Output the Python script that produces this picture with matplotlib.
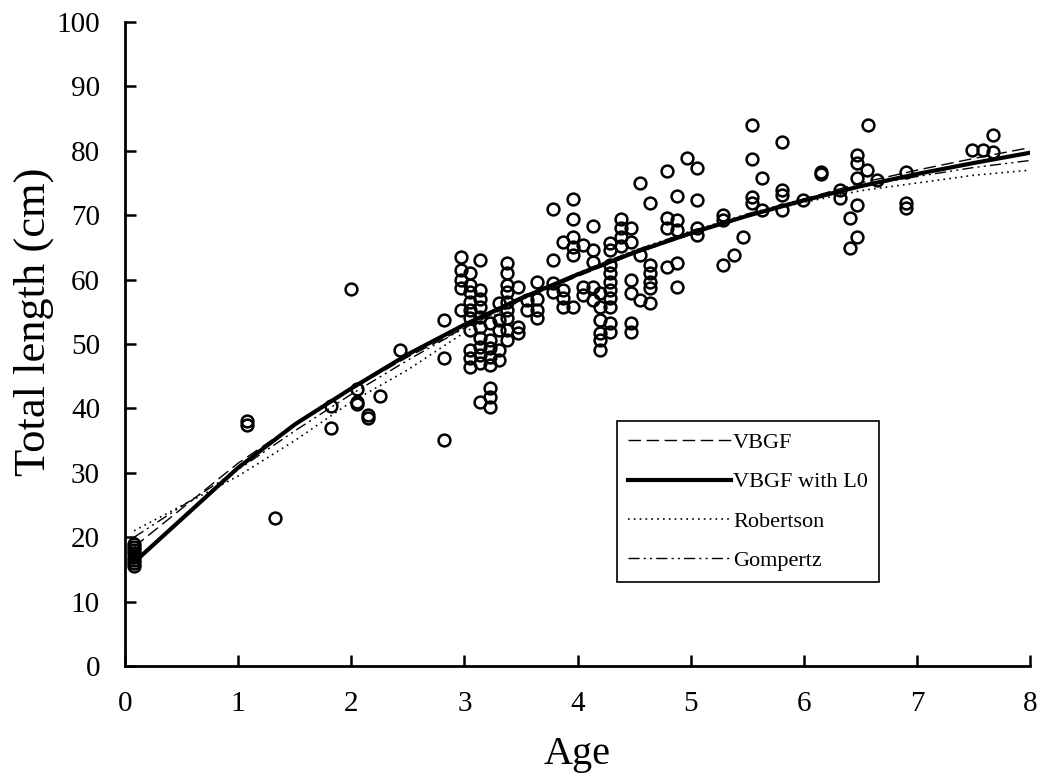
import matplotlib.pyplot as plt
import numpy as np
from matplotlib.lines import Line2D

plt.rcParams['font.family'] = ['Liberation Serif', 'DejaVu Serif']

col_age = [0.08, 1.08, 1.33, 1.82, 2.00, 2.05, 2.15, 2.25, 2.43, 2.82,
           2.97, 3.05, 3.14, 3.23, 3.31, 3.38, 3.47, 3.55, 3.64, 3.78,
           3.87, 3.96, 4.05, 4.14, 4.20, 4.29, 4.38, 4.47, 4.55, 4.64,
           4.79, 4.88, 4.97, 5.06, 5.29, 5.38, 5.46, 5.54, 5.63, 5.81,
           5.99, 6.15, 6.32, 6.41, 6.47, 6.56, 6.57, 6.65, 6.90, 7.49,
           7.58, 7.67]
col_len = [
    [15.5, 16, 16.5, 17, 17.5, 18, 18.5, 19],
    [37.5, 38],
    [23],
    [40.3, 37],
    [58.5],
    [43, 41, 40.7],
    [39, 38.5],
    [42],
    [49],
    [53.7, 47.8, 35.1],
    [63.5, 61.5, 60, 58.7, 55.3],
    [61, 59.2, 58, 56.5, 55.3, 54, 52.2, 49, 47.8, 46.4],
    [63, 58.4, 57, 55.7, 54.2, 52.6, 51, 49.5, 48.3, 47, 41],
    [43.2, 41.8, 40.2, 53.3, 50.6, 49.4, 48, 46.7],
    [56.4, 53.7, 52.2, 49, 47.5],
    [62.6, 61, 59.2, 58, 56.5, 55.3, 54, 52.2, 50.6],
    [58.8, 52.6, 51.7],
    [56.8, 55.3],
    [59.6, 57, 55.3, 54],
    [71, 63, 59.5, 58],
    [65.8, 58.4, 57.1, 55.7],
    [72.5, 69.4, 66.6, 65, 63.8, 55.7],
    [65.4, 58.8, 57.6],
    [68.3, 64.6, 62.7, 58.8, 56.8],
    [57.9, 55.7, 53.7, 51.7, 50.6, 49],
    [65.7, 64.6, 62.3, 61, 59.6, 58.4, 57.1, 55.7, 53.3, 51.9],
    [69.4, 68, 66.6, 65.2],
    [68, 65.8, 60, 57.9, 53.3, 51.9],
    [75, 63.8, 56.8],
    [71.9, 62.3, 61, 59.6, 58.7, 56.4],
    [76.9, 69.6, 68, 62],
    [73, 69.3, 67.7, 62.6, 58.9],
    [78.9],
    [77.3, 72.4, 68, 66.9],
    [70, 69.3, 62.3],
    [63.8],
    [66.6],
    [84, 78.7, 72.8, 71.9],
    [75.8, 70.8],
    [81.4, 73.9, 73.1, 70.8],
    [72.4],
    [76.7, 76.4],
    [73.9, 72.7],
    [69.6, 64.9],
    [79.3, 78.1, 75.8, 71.6, 66.6],
    [77],
    [84],
    [75.5],
    [76.7, 71.9, 71.1],
    [80.1],
    [80.1],
    [79.8, 82.5],
]

# fitted curves, values read at these ages
fit_age = [0.08, 1, 1.5, 2, 2.5, 3, 3.5, 4, 4.5, 5, 5.5, 6, 6.5, 7, 7.5, 8]
vbgf = [18.5, 31.5, 37.5, 43.0, 48.0, 52.5, 56.8, 60.5, 64.0, 67.0, 70.0, 72.5, 75.0, 77.0, 78.8, 80.5]
vbgf_l0 = [16.1, 30.8, 37.5, 43.1, 48.4, 53.0, 57.1, 60.8, 64.2, 67.2, 69.9, 72.3, 74.5, 76.4, 78.1, 79.7]
robertson = [21.0, 29.5, 35.0, 41.0, 46.0, 51.8, 56.8, 61.0, 64.5, 67.5, 70.0, 72.0, 73.8, 75.0, 76.2, 77.0]
gompertz = [20.0, 30.5, 36.5, 42.2, 47.5, 52.5, 57.0, 61.0, 64.5, 67.5, 70.2, 72.5, 74.5, 76.0, 77.4, 78.5]

ages = np.concatenate([[a] * len(l) for a, l in zip(col_age, col_len)])
lengths = np.concatenate(col_len)

fig = plt.figure(figsize=(10.42, 7.83), dpi=100)
ax = fig.add_axes([0.12, 0.1494, 0.8685, 0.8225])

ax.plot(ages, lengths, 'o', mfc='none', mec='black', ms=8.5, mew=1.8, ls='none')
ax.plot(fit_age, robertson, color='black', lw=1.2, ls=(0, (1, 2.5)))
ax.plot(fit_age, gompertz, color='black', lw=1.0, ls=(0, (8, 3, 1.5, 3, 1.5, 3)))
ax.plot(fit_age, vbgf, color='black', lw=1.0, ls=(0, (9, 4)))
ax.plot(fit_age, vbgf_l0, color='black', lw=3.0)

ax.set_xlim(0, 8)
ax.set_ylim(0, 100)
ax.set_xticks(np.arange(0, 9, 1))
ax.set_yticks(np.arange(0, 101, 10))
for s in ['top', 'right']:
    ax.spines[s].set_visible(False)
for s in ['left', 'bottom']:
    ax.spines[s].set_linewidth(2)
ax.tick_params(direction='in', length=8, width=1.8, labelsize=21, pad=18)
ax.set_xlabel('Age', fontsize=29, labelpad=14)
ax.set_ylabel('Total length (cm)', fontsize=32)
ax.yaxis.set_label_coords(-0.078, 0.535)

handles = [
    Line2D([], [], color='black', lw=1.0, ls=(0, (9, 4))),
    Line2D([], [], color='black', lw=3.0),
    Line2D([], [], color='black', lw=1.2, ls=(0, (1, 2.5))),
    Line2D([], [], color='black', lw=1.0, ls=(0, (8, 3, 1.5, 3, 1.5, 3))),
]
labels = ['VBGF', 'VBGF with L0', 'Robertson', 'Gompertz']
leg = ax.legend(handles, labels, loc='lower left', bbox_to_anchor=(0.544, 0.13),
                fontsize=16, handlelength=4.6, handletextpad=0.1,
                labelspacing=0.85, fancybox=False, framealpha=1,
                edgecolor='black', borderpad=0.5, borderaxespad=0)
leg.get_frame().set_linewidth(1.2)

fig.savefig('out.png', dpi=100)
